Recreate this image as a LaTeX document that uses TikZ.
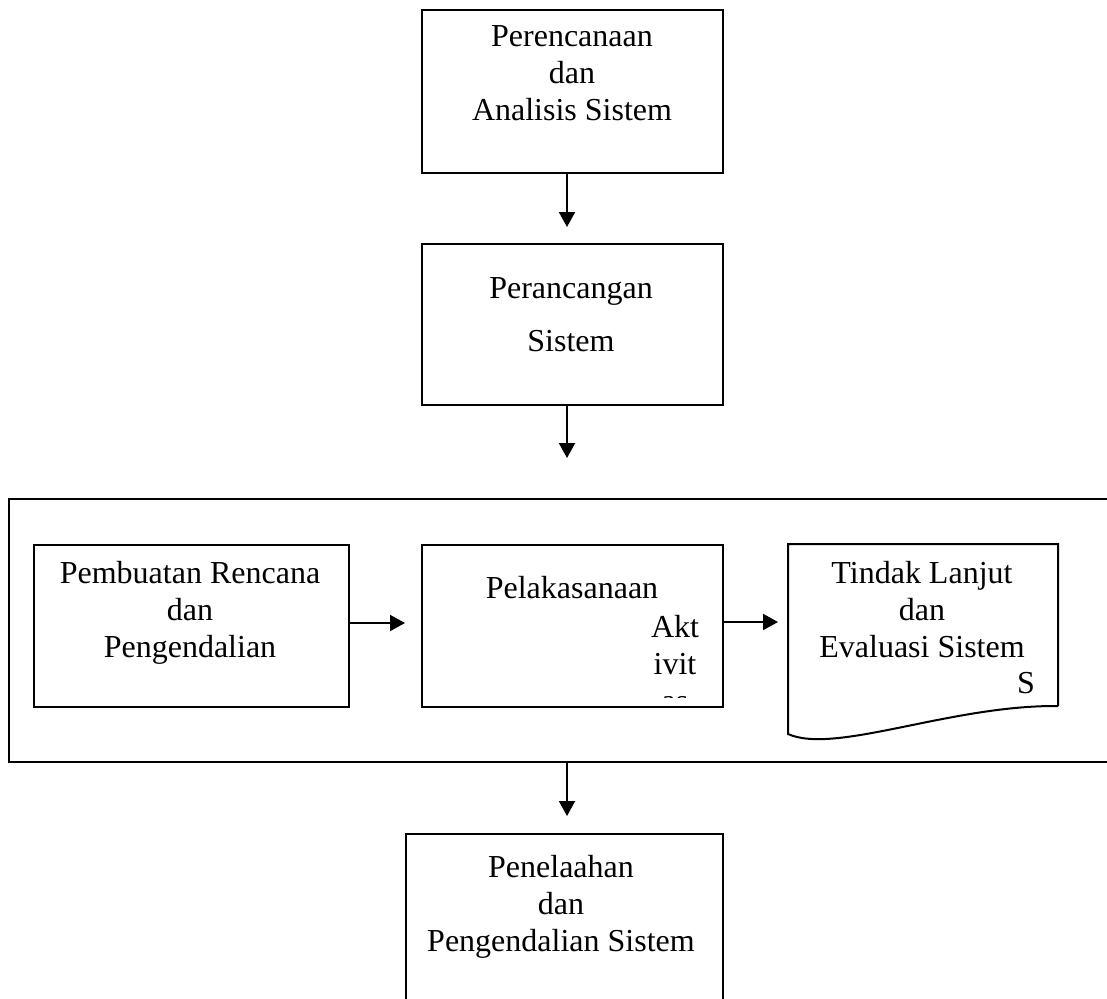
\documentclass[tikz,border=0pt]{standalone}
\usepackage{fontspec}
\setmainfont{Liberation Serif}
\usetikzlibrary{arrows.meta,positioning}

\begin{document}
\begin{tikzpicture}[
    x=1pt, y=-1pt,
    box/.style={draw, line width=2pt, inner sep=0pt, anchor=north west},
    lbl/.style={align=center, anchor=north, inner sep=0pt, font=\fontsize{32}{37}\selectfont},
    arr/.style={-{Triangle[width=16pt,length=15pt]}, line width=2pt}
]
\useasboundingbox (0,0) rectangle (1107,998);
\clip (0,0) rectangle (1107,998);

% PERENCANAAN
\node[box, minimum width=301pt, minimum height=163pt] (plan) at (421,9) {};
\node[lbl] (planT) at (572,25.5) {Perencanaan\\dan\\Analisis Sistem};

% PERANCANGAN
\node[box, minimum width=301pt, minimum height=161pt] (design) at (421,243) {};
\node[lbl] (designT) at (571,277.5) {Perancangan\\[16pt]Sistem};

% BINGKAI LUAR
\node[box, minimum width=1120pt, minimum height=263pt] (stage) at (8,498) {};

% PEMBUATAN RENCANA
\node[box, minimum width=315pt, minimum height=162pt] (make) at (33,544) {};
\node[lbl] (makeT) at (190,561.5) {Pembuatan Rencana\\dan\\Pengendalian};

% PELAKSANAAN
\node[box, minimum width=301pt, minimum height=162pt] (exec) at (421,544) {};
\node[lbl] (execT) at (572,576.5) {Pelakasanaan};
\begin{scope}
    \clip (421,544) rectangle (722,697);
    \node[lbl] (execT2) at (675,615.5) {Akt\\ivit\\as};
\end{scope}

% TINDAK LANJUT (dokumen)
\node[box, draw=none, minimum width=268pt, minimum height=160pt] (eval) at (788,544) {};
\draw[line width=2pt] (eval.south east) -- (eval.north east) -- (eval.north west)
    -- ([yshift=-28pt]eval.south west) .. controls (835,755) and (950,705) .. (eval.south east);
\node[lbl] (evalT) at (922,561.5) {Tindak Lanjut\\dan\\Evaluasi Sistem};
\node[lbl, anchor=base] (evalS) at (1026,693) {S};

% PENELAAHAN
\node[box, minimum width=317pt, minimum height=200pt] (review) at (405,833) {};
\node[lbl] (reviewT) at (561,855.5) {Penelaahan\\dan\\Pengendalian Sistem};

% PANAH
\draw[arr, shorten >=16pt] ([xshift=-5.5pt]plan.south) -- ([xshift=-5.5pt]design.north);
\draw[arr, shorten >=40pt] ([xshift=-5.5pt]design.south) -- ([xshift=-5.5pt]design.south |- stage.north);
\draw[arr, shorten >=17pt] ([xshift=-5.5pt]design.south |- stage.south) -- ([xshift=-5.5pt]design.south |- review.north);
\draw[arr, shorten >=16pt] ([yshift=3pt]make.east) -- ([yshift=3pt]exec.west);
\draw[arr, shorten >=10pt] ([yshift=4pt]exec.east) -- ([yshift=4pt]exec.east -| eval.west);

\end{tikzpicture}
\end{document}
